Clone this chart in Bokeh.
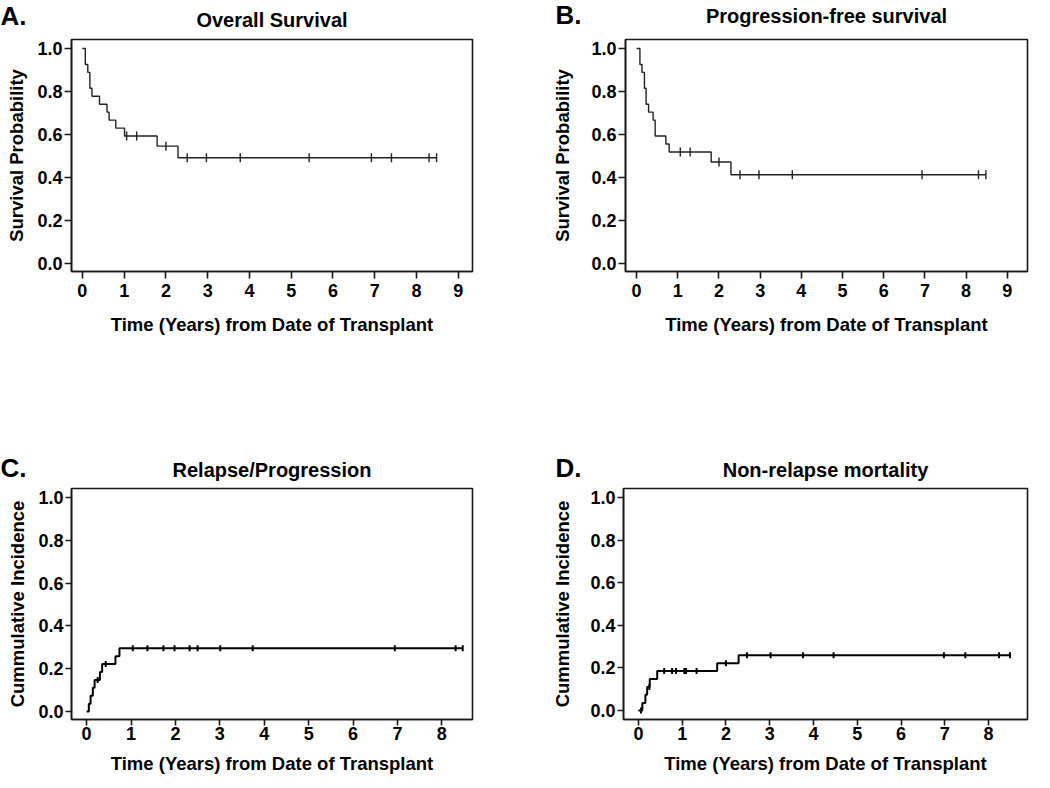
import numpy as np
from bokeh.plotting import figure
from bokeh.layouts import column, row
from bokeh.models import Range1d, FixedTicker, PrintfTickFormatter, Label
from bokeh.embed import file_html
from bokeh.resources import INLINE

FONT = "Liberation Sans"

# ---------------- data ----------------
# A. Overall survival (Kaplan-Meier)
os_event_t = [0.07, 0.13, 0.18, 0.23, 0.41, 0.59, 0.64, 0.80, 1.01, 1.79, 2.29]
os_surv = [0.926, 0.889, 0.815, 0.778, 0.741, 0.704, 0.667, 0.630, 0.593, 0.546, 0.492]
os_censor_t = [1.06, 1.30, 2.00, 2.51, 2.97, 3.78, 5.43, 6.92, 7.40, 8.30, 8.48]

# B. Progression-free survival (Kaplan-Meier)
pfs_event_t = [0.08, 0.13, 0.19, 0.23, 0.29, 0.40, 0.45, 0.71, 0.79, 1.81, 2.29]
pfs_surv = [0.926, 0.889, 0.815, 0.741, 0.704, 0.667, 0.593, 0.556, 0.519, 0.472, 0.413]
pfs_censor_t = [1.06, 1.30, 2.00, 2.51, 2.97, 3.78, 6.93, 8.30, 8.48]

# C. Relapse/Progression (cumulative incidence)
rel_event_t = [0.05, 0.09, 0.14, 0.18, 0.30, 0.35, 0.65, 0.74]
rel_ci = [0.037, 0.074, 0.111, 0.148, 0.185, 0.222, 0.259, 0.296]
rel_censor_t = [0.25, 0.43, 1.04, 1.37, 1.73, 1.98, 2.32, 2.50, 3.01, 3.74, 6.94, 8.31, 8.47]

# D. Non-relapse mortality (cumulative incidence)
nrm_event_t = [0.09, 0.16, 0.20, 0.26, 0.43, 1.80, 2.29]
nrm_ci = [0.036, 0.074, 0.111, 0.148, 0.186, 0.222, 0.259]
nrm_censor_t = [0.06, 0.25, 0.59, 0.77, 0.86, 1.05, 1.09, 1.33, 2.00, 2.48,
                3.02, 3.76, 4.46, 6.98, 7.47, 8.24, 8.49]

x_label = "Time (Years) from Date of Transplant"
y_ticks = [0.0, 0.2, 0.4, 0.6, 0.8, 1.0]


def step_xy(event_t, values, start, end):
    xs = [0.0] + list(event_t) + [end]
    ys = [start] + list(values) + [values[-1]]
    return xs, ys


def value_at(t, event_t, values, start):
    v = start
    for et, ev in zip(event_t, values):
        if et <= t:
            v = ev
    return v


def panel(letter, title, ylabel, event_t, values, start, censor_t,
          xr, yr, xticks, width, height, borders, fw, fh,
          title_dy, letter_dx, letter_dy, title_side, letter_side,
          tick_out, lab_standoff, xlab_standoff, ylab_standoff,
          line_w, line_col, cens_size):
    left, right, top, bottom = borders
    p = figure(width=width, height=height,
               x_range=Range1d(*xr), y_range=Range1d(*yr),
               output_backend="svg", toolbar_location=None,
               min_border_left=left, min_border_right=right,
               min_border_top=top, min_border_bottom=bottom,
               background_fill_color="white", border_fill_color="white")
    p.outline_line_color = "#1a1a1a"
    p.outline_line_width = 1.6
    p.grid.visible = False

    end = max(censor_t)
    xs, ys = step_xy(event_t, values, start, end)
    p.step(xs, ys, mode="after", line_color=line_col, line_width=line_w)
    cy = [value_at(t, event_t, values, start) for t in censor_t]
    p.scatter(censor_t, cy, marker="dash", angle=np.pi / 2, size=cens_size,
              line_color=line_col, line_width=line_w)

    for ax in (p.xaxis[0], p.yaxis[0]):
        ax.axis_line_color = "#1a1a1a"
        ax.axis_line_width = 1.6
        ax.major_tick_line_color = "#1a1a1a"
        ax.major_tick_line_width = 1.6
        ax.major_tick_out = tick_out
        ax.major_tick_in = 0
        ax.minor_tick_line_color = None
        ax.major_label_text_font = FONT
        ax.major_label_text_font_style = "bold"
        ax.major_label_text_font_size = "18px"
        ax.major_label_text_color = "black"
        ax.axis_label_text_font = FONT
        ax.axis_label_text_font_style = "bold"
        ax.axis_label_text_font_size = "18.5px"
        ax.axis_label_text_color = "black"

    p.xaxis.ticker = FixedTicker(ticks=xticks)
    p.xaxis.major_label_standoff = lab_standoff
    p.xaxis.axis_label = x_label
    p.xaxis.axis_label_standoff = xlab_standoff

    p.yaxis.ticker = FixedTicker(ticks=y_ticks)
    p.yaxis.formatter = PrintfTickFormatter(format="%.1f")
    p.yaxis.major_label_standoff = 2
    p.yaxis.axis_label = ylabel
    p.yaxis.axis_label_standoff = ylab_standoff

    # pixel offsets from the frame's top-left corner -> data coordinates
    sx = (xr[1] - xr[0]) / fw
    sy = (yr[1] - yr[0]) / fh
    p.add_layout(Label(x=xr[0] + (fw / 2) * sx, y=yr[1] + title_dy * sy,
                       text=title, text_align="center", text_baseline="alphabetic",
                       text_font=FONT, text_font_style="bold",
                       text_font_size="20px", text_color="black"), title_side)
    p.add_layout(Label(x=xr[0] + letter_dx * sx, y=yr[1] + letter_dy * sy,
                       text=letter, text_align="left", text_baseline="alphabetic",
                       text_font=FONT, text_font_style="bold",
                       text_font_size="26px", text_color="black"), letter_side)
    return p


pA = panel("A.", "Overall Survival", "Survival Probability",
           os_event_t, os_surv, 1.0, os_censor_t,
           (-0.26, 9.34), (-0.037, 1.042), list(range(10)),
           548, 400, (71, 76, 38, 129), 401, 233,
           19.5, -71, 24, "above", "below", 7, 5, 14, 7, 1.4, "#222222", 9)
pB = panel("B.", "Progression-free survival", "Survival Probability",
           pfs_event_t, pfs_surv, 1.0, pfs_censor_t,
           (-0.27, 9.49), (-0.037, 1.042), list(range(10)),
           500, 400, (77, 21, 39, 128), 402, 233,
           24, -70, 25, "above", "below", 7, 5, 14, 15, 1.4, "#222222", 9)
pC = panel("C.", "Relapse/Progression", "Cummulative Incidence",
           rel_event_t, rel_ci, 0.0, rel_censor_t,
           (-0.34, 8.69), (-0.037, 1.042), list(range(9)),
           548, 380, (71, 76, 88, 61), 401, 231,
           19, -71, 21, "above", "above", 6, 1, 10, 7, 2.0, "black", 6)
pD = panel("D.", "Non-relapse mortality", "Cummulative Incidence",
           nrm_event_t, nrm_ci, 0.0, nrm_censor_t,
           (-0.34, 8.89), (-0.042, 1.042), list(range(9)),
           500, 380, (75, 21, 88, 58), 404, 234,
           19, -68, 21, "above", "above", 6, 1, 10, 14, 2.0, "black", 6)

layout = column(row(pA, pB, spacing=0), row(pC, pD, spacing=0), spacing=0)
open("out.html", "w").write(file_html(layout, INLINE))
